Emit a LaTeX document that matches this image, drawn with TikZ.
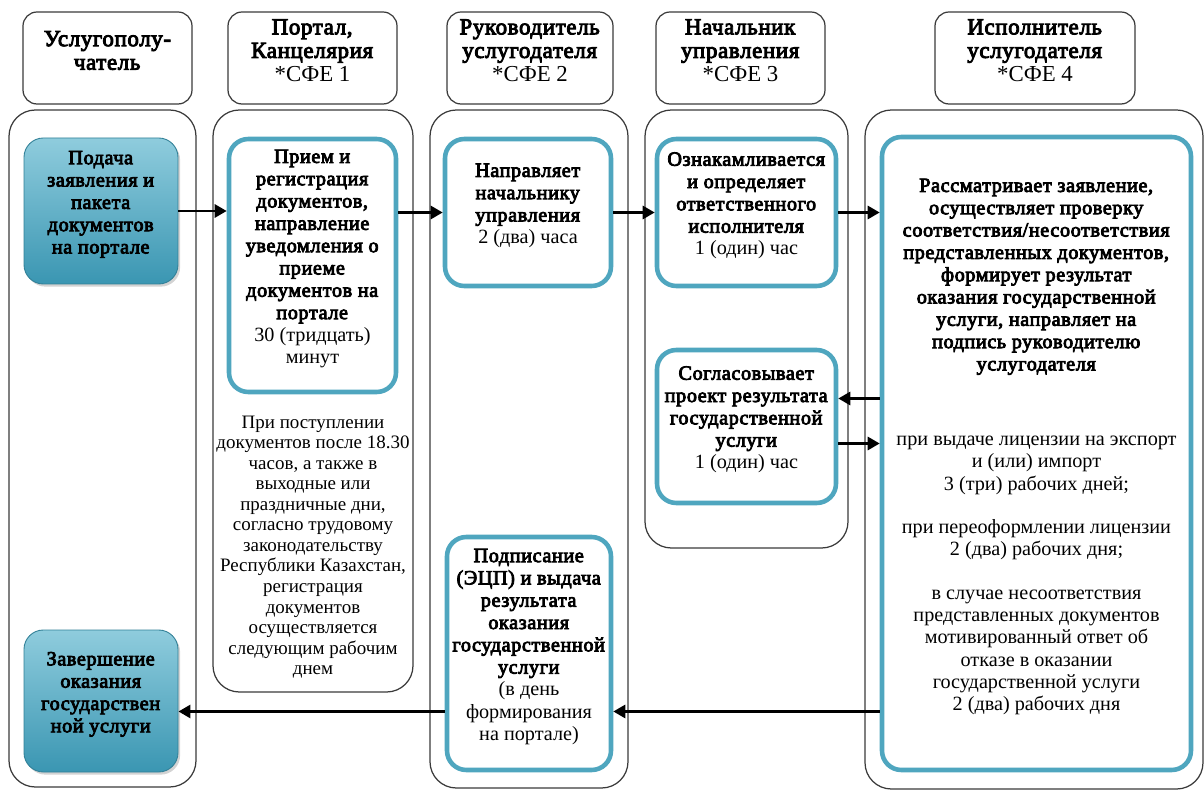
\documentclass[tikz,border=0pt]{standalone}
\usepackage{fontspec}
\setmainfont{Liberation Serif}[BoldFont={Liberation Serif},BoldFeatures={FakeBold=4,LetterSpace=3}]
\usetikzlibrary{arrows.meta,positioning,fit,shadows}
\definecolor{lanegray}{HTML}{3A3A3A}
\definecolor{tealrim}{HTML}{4FA6BF}
\definecolor{tealtop}{HTML}{8FCCDD}
\definecolor{tealbot}{HTML}{3A96B2}
\tikzset{
  headbox/.style={draw=lanegray,line width=0.7pt,rounded corners=8pt,inner sep=0pt,align=center,font=\fontsize{13}{13.4}\selectfont},
  lane/.style={draw=lanegray,line width=0.7pt,rounded corners=15pt,inner sep=0pt},
  stepbox/.style={draw=tealrim,line width=2.6pt,fill=white,rounded corners=11pt,inner sep=0pt,align=center,font=\fontsize{11.5}{12.7}\selectfont},
  endbox/.style={draw=tealbot!85!black,line width=0.5pt,top color=tealtop,bottom color=tealbot,rounded corners=11pt,inner sep=0pt,align=center,font=\fontsize{11.5}{12.7}\selectfont,drop shadow={shadow xshift=1.2pt,shadow yshift=-1.5pt,opacity=0.35}},
  note/.style={align=center,font=\fontsize{10.8}{11.7}\selectfont},
  flow/.style={-{Triangle[length=2.4mm,width=2.6mm]},draw=black,line width=1.6pt},
}

\begin{document}
\begin{tikzpicture}[x=0.02cm,y=-0.02cm]
  \useasboundingbox (0,0) rectangle (1204,790);
  % headers
  \node[headbox,fit={(23,12) (192,104)}] (h1) {\textbf{Услугополу-}\\\textbf{чатель}};
  \node[headbox,fit={(228,12) (397,104)}] (h2) {\textbf{Портал,}\\\textbf{Канцелярия}\\{}*СФЕ 1};
  \node[headbox,fit={(447,12) (613,104)}] (h3) {\textbf{Руководитель}\\\textbf{услугодателя}\\{}*СФЕ 2};
  \node[headbox,fit={(656,12) (825,104)}] (h4) {\textbf{Начальник}\\\textbf{управления}\\{}*СФЕ 3};
  \node[headbox,fit={(935,12) (1135,104)}] (h5) {\textbf{Исполнитель}\\\textbf{услугодателя}\\{}*СФЕ 4};
  % lanes
  \node[lane,fit={(9,110) (196,787)}] (l1) {};
  \node[lane,fit={(213,110) (413,692)}] (l2) {};
  \node[lane,fit={(430,110) (628,788)}] (l3) {};
  \node[lane,fit={(645,110) (848,548)}] (l4) {};
  \node[lane,fit={(865,110) (1203,789)}] (l5) {};
  % steps
  \node[endbox,fit={(24,138) (178,284)}] (submit) {\textbf{Подача}\\\textbf{заявления и}\\\textbf{пакета}\\\textbf{документов}\\\textbf{на портале}};
  \node[stepbox,fit={(229,139) (396,392)}] (recv) {\textbf{Прием и}\\\textbf{регистрация}\\\textbf{документов,}\\\textbf{направление}\\\textbf{уведомления о}\\\textbf{приеме}\\\textbf{документов на}\\\textbf{портале}\\30 (тридцать)\\минут};
  \node[note] (late) at (313,547) {При поступлении\\документов после 18.30\\часов, а также в\\выходные или\\праздничные дни,\\согласно трудовому\\законодательству\\Республики Казахстан,\\регистрация\\документов\\осуществляется\\следующим рабочим\\днем};
  \node[stepbox,fit={(445,139) (611,286)}] (direct) {\textbf{Направляет}\\\textbf{начальнику}\\\textbf{управления}\\2 (два) часа};
  \node[stepbox,fit={(657,139) (836,286)}] (assign) {\textbf{Ознакамливается}\\\textbf{и определяет}\\\textbf{ответственного}\\\textbf{исполнителя}\\1 (один) час};
  \node[stepbox,fit={(657,350) (836,503)}] (approve) {\textbf{Согласовывает}\\\textbf{проект результата}\\\textbf{государственной}\\\textbf{услуги}\\1 (один) час};
  \node[stepbox,fit={(882,137) (1191,770)}] (exec) {\textbf{Рассматривает заявление,}\\\textbf{осуществляет проверку}\\\textbf{соответствия/несоответствия}\\\textbf{представленных документов,}\\\textbf{формирует результат}\\\textbf{оказания государственной}\\\textbf{услуги, направляет на}\\\textbf{подпись руководителю}\\\textbf{услугодателя}\\[30pt]
    при выдаче лицензии на экспорт\\и (или) импорт\\3 (три) рабочих дней;\\[12pt]
    при переоформлении лицензии\\2 (два) рабочих дня;\\[12pt]
    в случае несоответствия\\представленных документов\\мотивированный ответ об\\отказе в оказании\\государственной услуги\\2 (два) рабочих дня};
  \node[stepbox,fit={(447,537) (611,770)}] (sign) {\textbf{Подписание}\\\textbf{(ЭЦП) и выдача}\\\textbf{результата}\\\textbf{оказания}\\\textbf{государственной}\\\textbf{услуги}\\(в день\\формирования\\на портале)};
  \node[endbox,fit={(24,630) (178,772)}] (finish) {\textbf{Завершение}\\\textbf{оказания}\\\textbf{государствен}\\\textbf{ной услуги}\\[8pt]};
  % connectors
  \coordinate (toexec) at ([yshift=0.56cm]approve.east);
  \coordinate (fromapp) at ([yshift=-0.34cm]approve.east);
  \coordinate (back) at ([yshift=-1.16cm]sign.east);
  \draw[flow] (submit.east) -- (submit.east -| recv.west);
  \draw[flow] (recv.east |- direct.west) -- (direct.west);
  \draw[flow] (direct.east) -- (assign.west);
  \draw[flow] (assign.east) -- (assign.east -| exec.west);
  \draw[flow] (toexec -| exec.west) -- (toexec);
  \draw[flow] (fromapp) -- (fromapp -| exec.west);
  \draw[flow] (back -| exec.west) -- (back);
  \draw[flow] (back -| sign.west) -- (back -| finish.east);
\end{tikzpicture}
\end{document}
